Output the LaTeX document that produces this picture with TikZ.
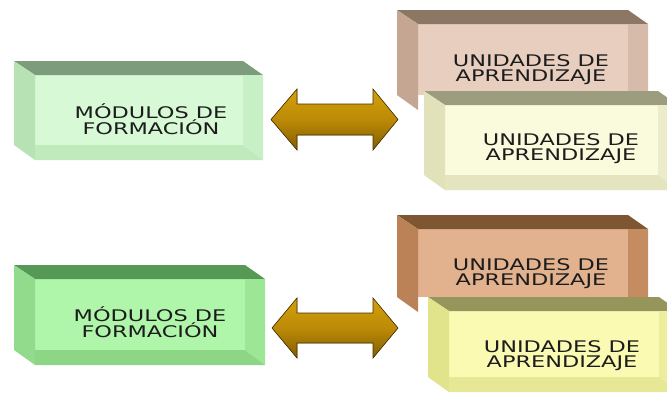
\documentclass[tikz,border=0pt]{standalone}
\usepackage{fontspec}
\newfontfamily\boxfont[FakeStretch=1.40]{DejaVu Sans}
\usetikzlibrary{calc}
\definecolor{text_color}{RGB}{28,28,28}
% pale green module
\definecolor{mod1_front}{RGB}{216,249,214}
\definecolor{mod1_top}{RGB}{124,156,124}
\definecolor{mod1_left}{RGB}{182,226,180}
\definecolor{mod1_right}{RGB}{200,240,198}
\definecolor{mod1_bottom}{RGB}{190,234,188}
% strong green module
\definecolor{mod2_front}{RGB}{176,246,170}
\definecolor{mod2_top}{RGB}{86,152,86}
\definecolor{mod2_left}{RGB}{146,218,140}
\definecolor{mod2_right}{RGB}{156,230,150}
\definecolor{mod2_bottom}{RGB}{140,214,134}
% pink unit
\definecolor{pink_front}{RGB}{231,206,190}
\definecolor{pink_top}{RGB}{140,118,100}
\definecolor{pink_left}{RGB}{196,166,146}
\definecolor{pink_right}{RGB}{214,186,170}
% pale yellow unit
\definecolor{cream_front}{RGB}{250,250,220}
\definecolor{cream_top}{RGB}{156,156,126}
\definecolor{cream_left}{RGB}{226,226,186}
\definecolor{cream_right}{RGB}{236,236,202}
\definecolor{cream_bottom}{RGB}{228,228,190}
% brown unit
\definecolor{brown_front}{RGB}{226,178,142}
\definecolor{brown_top}{RGB}{126,86,50}
\definecolor{brown_left}{RGB}{186,130,86}
\definecolor{brown_right}{RGB}{196,140,96}
% yellow unit
\definecolor{yellow_front}{RGB}{250,250,178}
\definecolor{yellow_top}{RGB}{150,150,92}
\definecolor{yellow_left}{RGB}{226,228,140}
\definecolor{yellow_right}{RGB}{236,238,156}
\definecolor{yellow_bottom}{RGB}{230,232,150}
% double arrow
\definecolor{gold_top}{RGB}{176,132,16}
\definecolor{gold_bright}{RGB}{210,160,10}
\definecolor{gold_mid}{RGB}{188,138,6}
\definecolor{gold_low}{RGB}{130,94,2}
\definecolor{gold_bottom}{RGB}{88,60,2}
\definecolor{gold_edge}{RGB}{70,48,0}
\pgfdeclareverticalshading{goldshade}{100bp}{
  color(0bp)=(gold_bottom); color(25bp)=(gold_low); color(50bp)=(gold_mid);
  color(74bp)=(gold_bright); color(100bp)=(gold_top)}
\tikzset{
  frontface/.style={
    draw=none, inner sep=0pt, outer sep=0pt
  },
  boxtext/.style={
    font=\boxfont\fontsize{16}{15}\selectfont,
    text=text_color, align=center, inner sep=0pt
  },
  goldarrow/.style={
    draw=gold_edge, line width=0.6pt, line join=miter, shading=goldshade
  }
}

\begin{document}
\begin{tikzpicture}[x=1pt, y=-1pt]

\useasboundingbox (0,0) rectangle (667,392);
\clip (0,0) rectangle (667,392);
\fill[white] (0,0) rectangle (667,392);

% upper module
\node[frontface, fill=mod1_front, minimum width=208pt, minimum height=70pt] (mod1) at (139,110) {};
\fill[mod1_top] (mod1.north west) -- ++(-21,-14) -- ($(mod1.north east)+(0,-14)$) -- ($(mod1.north east)+(20,0)$) -- cycle;
\fill[mod1_left] (mod1.north west) -- ++(-21,-14) -- ($(mod1.south west)+(-21,0)$) -- ($(mod1.south west)+(0,15)$) -- cycle;
\fill[mod1_right] (mod1.north east) -- ++(20,0) -- ($(mod1.south east)+(20,15)$) -- (mod1.south east) -- cycle;
\fill[mod1_bottom] (mod1.south west) -- (mod1.south east) -- ++(20,15) -- ($(mod1.south west)+(0,15)$) -- cycle;
\node[boxtext] (mod1label) at ($(mod1.center)+(12,9.5)$) {MÓDULOS DE\\FORMACIÓN};

% upper units
\node[frontface, fill=pink_front, minimum width=210pt, minimum height=71pt] (unit1a) at (523,59.5) {};
\fill[pink_top] (unit1a.north west) -- ++(-21,-14) -- ($(unit1a.north east)+(0,-14)$) -- ($(unit1a.north east)+(20,0)$) -- cycle;
\fill[pink_left] (unit1a.north west) -- ++(-21,-14) -- ($(unit1a.south west)+(-21,0)$) -- ($(unit1a.south west)+(0,15)$) -- cycle;
\fill[pink_right] (unit1a.north east) -- ++(20,0) -- ($(unit1a.south east)+(20,15)$) -- (unit1a.south east) -- cycle;
\node[boxtext] (unit1alabel) at ($(unit1a.center)+(8,10.5)$) {UNIDADES DE\\APRENDIZAJE};

\node[frontface, fill=cream_front, minimum width=213pt, minimum height=70pt] (unit1b) at (551.5,140) {};
\fill[cream_top] (unit1b.north west) -- ++(-21,-14) -- ($(unit1b.north east)+(0,-14)$) -- ($(unit1b.north east)+(20,0)$) -- cycle;
\fill[cream_left] (unit1b.north west) -- ++(-21,-14) -- ($(unit1b.south west)+(-21,0)$) -- ($(unit1b.south west)+(0,15)$) -- cycle;
\fill[cream_right] (unit1b.north east) -- ++(20,0) -- ($(unit1b.south east)+(20,15)$) -- (unit1b.south east) -- cycle;
\fill[cream_bottom] (unit1b.south west) -- (unit1b.south east) -- ++(20,15) -- ($(unit1b.south west)+(0,15)$) -- cycle;
\node[boxtext] (unit1blabel) at ($(unit1b.center)+(9.5,9)$) {UNIDADES DE\\APRENDIZAJE};

% lower module
\node[frontface, fill=mod2_front, minimum width=210pt, minimum height=71pt] (mod2) at (140,314.5) {};
\fill[mod2_top] (mod2.north west) -- ++(-21,-14) -- ($(mod2.north east)+(0,-14)$) -- ($(mod2.north east)+(20,0)$) -- cycle;
\fill[mod2_left] (mod2.north west) -- ++(-21,-14) -- ($(mod2.south west)+(-21,0)$) -- ($(mod2.south west)+(0,15)$) -- cycle;
\fill[mod2_right] (mod2.north east) -- ++(20,0) -- ($(mod2.south east)+(20,15)$) -- (mod2.south east) -- cycle;
\fill[mod2_bottom] (mod2.south west) -- (mod2.south east) -- ++(20,15) -- ($(mod2.south west)+(0,15)$) -- cycle;
\node[boxtext] (mod2label) at ($(mod2.center)+(10,8)$) {MÓDULOS DE\\FORMACIÓN};

% lower units
\node[frontface, fill=brown_front, minimum width=210pt, minimum height=68pt] (unit2a) at (523,263) {};
\fill[brown_top] (unit2a.north west) -- ++(-21,-14) -- ($(unit2a.north east)+(0,-14)$) -- ($(unit2a.north east)+(20,0)$) -- cycle;
\fill[brown_left] (unit2a.north west) -- ++(-21,-14) -- ($(unit2a.south west)+(-21,0)$) -- ($(unit2a.south west)+(0,15)$) -- cycle;
\fill[brown_right] (unit2a.north east) -- ++(20,0) -- ($(unit2a.south east)+(20,15)$) -- (unit2a.south east) -- cycle;
\node[boxtext] (unit2alabel) at ($(unit2a.center)+(8,10.5)$) {UNIDADES DE\\APRENDIZAJE};

\node[frontface, fill=yellow_front, minimum width=210pt, minimum height=66pt] (unit2b) at (554,344) {};
\fill[yellow_top] (unit2b.north west) -- ++(-21,-14) -- ($(unit2b.north east)+(0,-14)$) -- ($(unit2b.north east)+(20,0)$) -- cycle;
\fill[yellow_left] (unit2b.north west) -- ++(-21,-14) -- ($(unit2b.south west)+(-21,0)$) -- ($(unit2b.south west)+(0,15)$) -- cycle;
\fill[yellow_right] (unit2b.north east) -- ++(20,0) -- ($(unit2b.south east)+(20,15)$) -- (unit2b.south east) -- cycle;
\fill[yellow_bottom] (unit2b.south west) -- (unit2b.south east) -- ++(20,15) -- ($(unit2b.south west)+(0,15)$) -- cycle;
\node[boxtext] (unit2blabel) at ($(unit2b.center)+(8,12)$) {UNIDADES DE\\APRENDIZAJE};

% double arrows between module and units
\coordinate (arrow1w) at (271,119.5);
\coordinate (arrow1e) at (398,119.5);
\filldraw[goldarrow] (arrow1w) -- ++(26,-30.5) -- ++(0,15) -- ++(76,0) -- ++(0,-15) -- (arrow1e) -- ++(-25,30.5) -- ++(0,-15) -- ++(-76,0) -- ++(0,15) -- cycle;

\coordinate (arrow2w) at (272,328);
\coordinate (arrow2e) at (398,328);
\filldraw[goldarrow] (arrow2w) -- ++(25,-30) -- ++(0,15) -- ++(76,0) -- ++(0,-15) -- (arrow2e) -- ++(-25,30) -- ++(0,-15) -- ++(-76,0) -- ++(0,15) -- cycle;

\end{tikzpicture}
\end{document}
